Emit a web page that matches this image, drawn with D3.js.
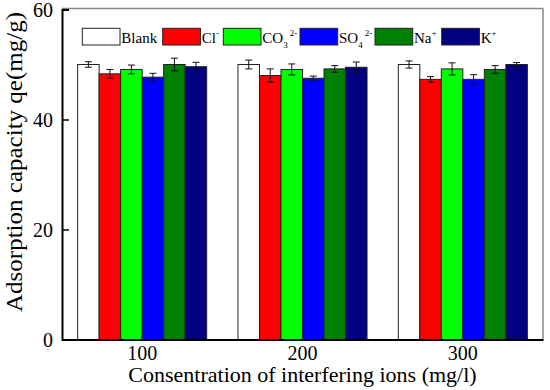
<!DOCTYPE html>
<html>
<head>
<meta charset="utf-8">
<script src="https://cdn.jsdelivr.net/npm/d3@7"></script>
<style>
  html, body { margin: 0; padding: 0; background: #fff; }
  svg { display: block; font-family: "Liberation Serif", "Times New Roman", serif; }
</style>
</head>
<body>
<svg id="chart" width="550" height="390"></svg>
<script>
const categories = ["100", "200", "300"];
const seriesNames = ["Blank", "Cl", "CO3", "SO4", "Na", "K"];
const seriesColors = ["#ffffff", "#ff0000", "#00ff00", "#0000ff", "#008000", "#000080"];
const blankValues = [50.0, 50.0, 50.0];
const blankErrors = [0.5, 0.8, 0.65];
const clValues = [48.3, 48.0, 47.3];
const clErrors = [0.8, 1.2, 0.5];
const co3Values = [49.1, 49.1, 49.2];
const co3Errors = [0.8, 1.0, 1.1];
const so4Values = [47.7, 47.5, 47.3];
const so4Errors = [0.7, 0.4, 0.85];
const naValues = [50.0, 49.2, 49.1];
const naErrors = [1.15, 0.6, 0.7];
const kValues = [49.6, 49.5, 50.0];
const kErrors = [0.8, 0.95, 0.35];
const yTicks = [0, 20, 40, 60];
const xTitle = "Consentration of interfering ions (mg/l)";
const yTitle = "Adsorption capacity qe(mg/g)";

const allValues = [blankValues, clValues, co3Values, so4Values, naValues, kValues];
const allErrors = [blankErrors, clErrors, co3Errors, so4Errors, naErrors, kErrors];

const svg = d3.select("#chart");
const L = 62, R = 543, T = 9.5, B = 339.5;

const x0 = d3.scaleBand().domain(categories).range([L, R]).paddingInner(0.195).paddingOuter(0.0975);
const x1 = d3.scaleBand().domain(seriesNames).range([0, x0.bandwidth()]).padding(0);
const y = d3.scaleLinear().domain([0, 60]).range([B, T]);

const rows = [];
categories.forEach((c, ci) => {
  seriesNames.forEach((s, si) => {
    rows.push({ c, s, si, v: allValues[si][ci], e: allErrors[si][ci] });
  });
});

// Bars
svg.append("g").selectAll("rect").data(rows).join("rect")
  .attr("x", d => x0(d.c) + x1(d.s))
  .attr("y", d => y(d.v))
  .attr("width", x1.bandwidth())
  .attr("height", d => y(0) - y(d.v))
  .attr("fill", d => seriesColors[d.si])
  .attr("stroke", "#222")
  .attr("stroke-width", 1);

// Error bars
const eg = svg.append("g").attr("stroke", "#111").attr("stroke-width", 1);
rows.forEach(d => {
  const cx = x0(d.c) + x1(d.s) + x1.bandwidth() / 2;
  eg.append("line").attr("x1", cx).attr("x2", cx).attr("y1", y(d.v + d.e)).attr("y2", y(d.v - d.e));
  eg.append("line").attr("x1", cx - 3.5).attr("x2", cx + 3.5).attr("y1", y(d.v + d.e)).attr("y2", y(d.v + d.e));
  eg.append("line").attr("x1", cx - 3.5).attr("x2", cx + 3.5).attr("y1", y(d.v - d.e)).attr("y2", y(d.v - d.e));
});

// Frame: top and right gray
svg.append("line").attr("x1", L).attr("x2", R).attr("y1", T - 1).attr("y2", T - 1).attr("stroke", "#888").attr("stroke-width", 1.5);
svg.append("line").attr("x1", R).attr("x2", R).attr("y1", T - 1).attr("y2", B).attr("stroke", "#888").attr("stroke-width", 1.5);

// Y axis (inward ticks)
const yAxis = d3.axisRight(y).tickValues(yTicks).tickSize(7).tickFormat("");
const yg = svg.append("g").attr("transform", `translate(${L},0)`).call(yAxis);
yg.select(".domain").attr("stroke", "#000").attr("stroke-width", 2);
yg.selectAll(".tick line").attr("stroke", "#000").attr("stroke-width", 1.5);
svg.append("g").selectAll("text").data(yTicks).join("text")
  .attr("x", L - 9).attr("y", d => y(d)).attr("dy", "0.35em")
  .attr("text-anchor", "end").attr("font-size", 20).attr("fill", "#000")
  .text(d => d);

// X axis
const xAxis = d3.axisBottom(x0).tickSize(0).tickPadding(6);
const xg = svg.append("g").attr("transform", `translate(0,${B})`).call(xAxis);
xg.select(".domain").attr("stroke", "#000").attr("stroke-width", 2);
xg.selectAll("text").attr("font-size", 20).attr("font-family", "Liberation Serif, serif").attr("fill", "#000");

// Axis titles
svg.append("text").attr("x", (L + R) / 2).attr("y", 382).attr("text-anchor", "middle")
  .attr("font-size", 22).attr("fill", "#000").text(xTitle);
svg.append("text").attr("transform", `translate(22,162) rotate(-90)`)
  .attr("text-anchor", "middle").attr("font-size", 23).attr("fill", "#000")
  .attr("textLength", 300).attr("lengthAdjust", "spacingAndGlyphs").text(yTitle);

// Legend
const legendItems = [
  { base: "Blank", parts: [] },
  { base: "Cl", parts: [["sup", "-"]] },
  { base: "CO", parts: [["sub", "3"], ["sup", "2-"]] },
  { base: "SO", parts: [["sub", "4"], ["sup", "2-"]] },
  { base: "Na", parts: [["sup", "+"]] },
  { base: "K", parts: [["sup", "+"]] }
];
const legendX = [82.3, 162.7, 223.3, 300, 375, 441.7];
const lg = svg.append("g");
legendItems.forEach((it, i) => {
  lg.append("rect").attr("x", legendX[i]).attr("y", 28.3).attr("width", 37.7).attr("height", 16.7)
    .attr("fill", seriesColors[i]).attr("stroke", "#222").attr("stroke-width", 1);
  const t = lg.append("text").attr("x", legendX[i] + 39).attr("y", 42.5)
    .attr("font-size", 15).attr("fill", "#000");
  t.append("tspan").text(it.base);
  let subW = 0;
  it.parts.forEach(([kind, txt], k) => {
    if (kind === "sub") {
      t.append("tspan").attr("font-size", 9).attr("dy", 5).text(txt);
      subW = 5;
    } else {
      const ts = t.append("tspan").attr("font-size", 9).attr("dy", subW ? -12 : -7).text(txt);
      if (subW) ts.attr("dx", 2);
    }
  });
});
</script>
</body>
</html>
